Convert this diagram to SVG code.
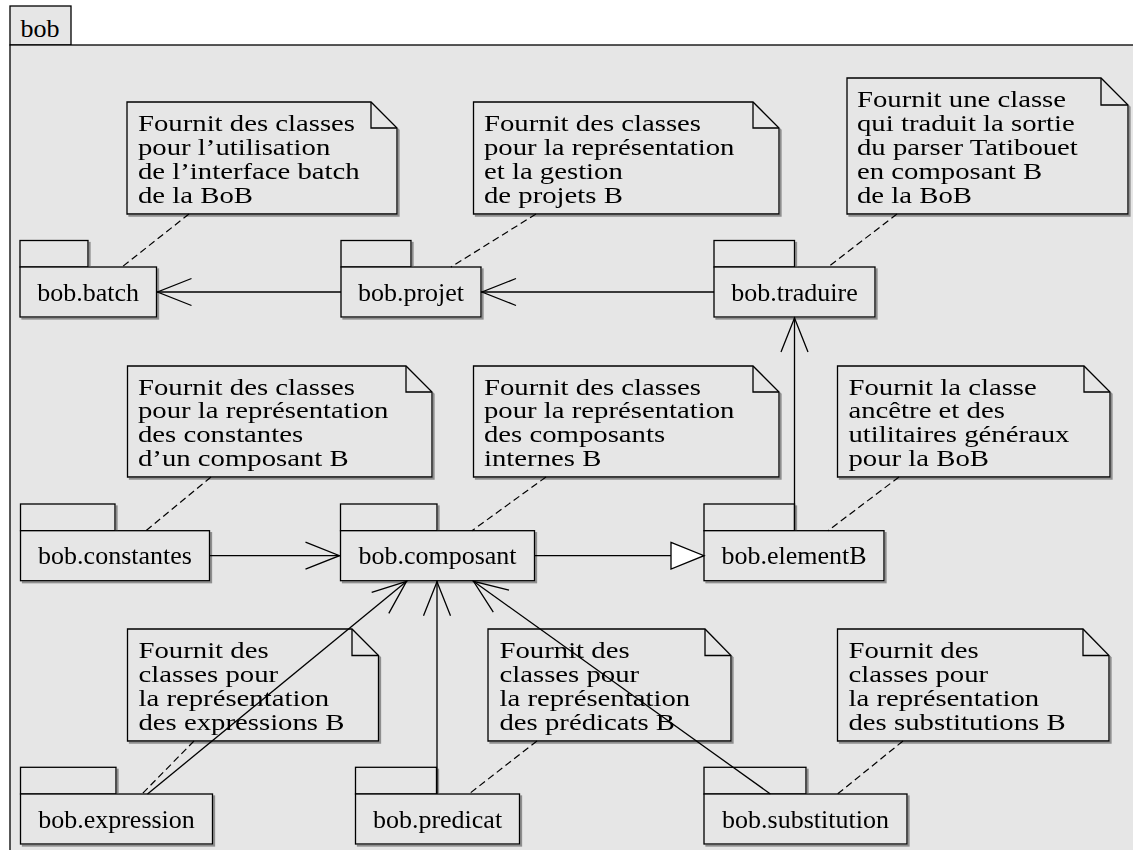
<svg xmlns="http://www.w3.org/2000/svg" width="1133" height="850" viewBox="0 0 1133 850">
<style>
.frame{fill:#e6e6e6;stroke:#000;stroke-width:1.3}
.box{fill:#e6e6e6;stroke:#000;stroke-width:1.3}
.note{fill:#e6e6e6;stroke:#000;stroke-width:1.3}
.fold{fill:none;stroke:#000;stroke-width:1.3}
.lbl{font-family:"Liberation Serif","Times New Roman",serif;font-size:26px;fill:#000;text-anchor:middle}
.ntxt{font-family:"Liberation Serif","Times New Roman",serif;font-size:23px;fill:#000}
.dep{fill:none;stroke:#000;stroke-width:1.3;marker-end:url(#open)}
.gen{fill:none;stroke:#000;stroke-width:1.3;marker-end:url(#tri)}
.anc{fill:none;stroke:#000;stroke-width:1.2;stroke-dasharray:7 4}
.shad{filter:url(#ds)}
</style>
<defs>
<filter id="ds" x="-5%" y="-5%" width="115%" height="125%">
<feDropShadow dx="2" dy="2" stdDeviation="0.7" flood-color="#777" flood-opacity="0.8"/>
</filter>
<marker id="open" markerUnits="userSpaceOnUse" markerWidth="40" markerHeight="32" refX="36" refY="14" orient="auto" overflow="visible">
<path d="M1,0.5 L35,14 L1,27.5" fill="none" stroke="#000" stroke-width="1.3"/>
</marker>
<marker id="tri" markerUnits="userSpaceOnUse" markerWidth="40" markerHeight="32" refX="34" refY="14" orient="auto" overflow="visible">
<path d="M1,0.7 L34,14 L1,27.3 Z" fill="#fff" stroke="#000" stroke-width="1.3"/>
</marker>
</defs>

<g id="frame">
<rect class="frame" x="10" y="6" width="61" height="39"/>
<rect class="frame" x="10" y="45" width="1135" height="815"/>
<text x="20.5" y="36.5" style="font-family:'Liberation Serif','Times New Roman',serif;font-size:26px">bob</text>
</g>

<!-- notes -->
<g id="note-batch" class="shad">
<path class="note" d="M127,102 H371 L397,128 V214 H127 Z"/>
<path class="fold" d="M371,102 V128 H397"/>
<text class="ntxt" transform="translate(138,131) scale(1.25,1)"><tspan x="0" y="0">Fournit des classes</tspan><tspan x="0" dy="24">pour l’utilisation</tspan><tspan x="0" dy="24">de l’interface batch</tspan><tspan x="0" dy="24">de la BoB</tspan></text>
</g>
<g id="note-projet" class="shad">
<path class="note" d="M473.5,102 H753 L779,128 V214 H473.5 Z"/>
<path class="fold" d="M753,102 V128 H779"/>
<text class="ntxt" transform="translate(484,131) scale(1.25,1)"><tspan x="0" y="0">Fournit des classes</tspan><tspan x="0" dy="24">pour la représentation</tspan><tspan x="0" dy="24">et la gestion</tspan><tspan x="0" dy="24">de projets B</tspan></text>
</g>
<g id="note-traduire" class="shad">
<path class="note" d="M847,78 H1101 L1128,105 V214 H847 Z"/>
<path class="fold" d="M1101,78 V105 H1128"/>
<text class="ntxt" transform="translate(857,107) scale(1.25,1)"><tspan x="0" y="0">Fournit une classe</tspan><tspan x="0" dy="24">qui traduit la sortie</tspan><tspan x="0" dy="24">du parser Tatibouet</tspan><tspan x="0" dy="24">en composant B</tspan><tspan x="0" dy="24">de la BoB</tspan></text>
</g>
<g id="note-constantes" class="shad">
<path class="note" d="M127.5,366 H406 L432,392 V477 H127.5 Z"/>
<path class="fold" d="M406,366 V392 H432"/>
<text class="ntxt" transform="translate(138,394.5) scale(1.25,1)"><tspan x="0" y="0">Fournit des classes</tspan><tspan x="0" dy="24">pour la représentation</tspan><tspan x="0" dy="24">des constantes</tspan><tspan x="0" dy="24">d’un composant B</tspan></text>
</g>
<g id="note-composant" class="shad">
<path class="note" d="M473.5,366 H753 L779,392 V477 H473.5 Z"/>
<path class="fold" d="M753,366 V392 H779"/>
<text class="ntxt" transform="translate(484,394.5) scale(1.25,1)"><tspan x="0" y="0">Fournit des classes</tspan><tspan x="0" dy="24">pour la représentation</tspan><tspan x="0" dy="24">des composants</tspan><tspan x="0" dy="24">internes B</tspan></text>
</g>
<g id="note-elementB" class="shad">
<path class="note" d="M837.5,366 H1084 L1110,392 V477 H837.5 Z"/>
<path class="fold" d="M1084,366 V392 H1110"/>
<text class="ntxt" transform="translate(848.5,394.5) scale(1.25,1)"><tspan x="0" y="0">Fournit la classe</tspan><tspan x="0" dy="24">ancêtre et des</tspan><tspan x="0" dy="24">utilitaires généraux</tspan><tspan x="0" dy="24">pour la BoB</tspan></text>
</g>
<g id="note-expression" class="shad">
<path class="note" d="M127.5,629 H352 L378.5,655.5 V741 H127.5 Z"/>
<path class="fold" d="M352,629 V655.5 H378.5"/>
<text class="ntxt" transform="translate(138.5,658) scale(1.25,1)"><tspan x="0" y="0">Fournit des</tspan><tspan x="0" dy="24">classes pour</tspan><tspan x="0" dy="24">la représentation</tspan><tspan x="0" dy="24">des expressions B</tspan></text>
</g>
<g id="note-predicat" class="shad">
<path class="note" d="M488,629 H705 L731,655.5 V741 H488 Z"/>
<path class="fold" d="M705,629 V655.5 H731"/>
<text class="ntxt" transform="translate(499.5,658) scale(1.25,1)"><tspan x="0" y="0">Fournit des</tspan><tspan x="0" dy="24">classes pour</tspan><tspan x="0" dy="24">la représentation</tspan><tspan x="0" dy="24">des prédicats B</tspan></text>
</g>
<g id="note-substitution" class="shad">
<path class="note" d="M837.5,629 H1083 L1109,655.5 V741 H837.5 Z"/>
<path class="fold" d="M1083,629 V655.5 H1109"/>
<text class="ntxt" transform="translate(848.5,658) scale(1.25,1)"><tspan x="0" y="0">Fournit des</tspan><tspan x="0" dy="24">classes pour</tspan><tspan x="0" dy="24">la représentation</tspan><tspan x="0" dy="24">des substitutions B</tspan></text>
</g>

<!-- packages -->
<g id="pkg-batch" class="shad">
<rect class="box" x="20" y="240.5" width="68" height="26.5"/>
<rect class="box" x="20" y="267" width="136.5" height="50"/>
<text class="lbl" x="88.2" y="300.5">bob.batch</text>
</g>
<g id="pkg-projet" class="shad">
<rect class="box" x="341" y="240.5" width="70" height="26.5"/>
<rect class="box" x="341" y="267" width="140" height="50"/>
<text class="lbl" x="411" y="300.5">bob.projet</text>
</g>
<g id="pkg-traduire" class="shad">
<rect class="box" x="714" y="240.5" width="80.5" height="26.5"/>
<rect class="box" x="714" y="267" width="161" height="50"/>
<text class="lbl" x="794.5" y="300.5">bob.traduire</text>
</g>
<g id="pkg-constantes" class="shad">
<rect class="box" x="20.5" y="504" width="94.5" height="26.7"/>
<rect class="box" x="20.5" y="530.7" width="189" height="50"/>
<text class="lbl" x="115" y="564">bob.constantes</text>
</g>
<g id="pkg-composant" class="shad">
<rect class="box" x="340.5" y="504" width="96.5" height="26.7"/>
<rect class="box" x="340.5" y="530.7" width="194" height="50"/>
<text class="lbl" x="437.5" y="564">bob.composant</text>
</g>
<g id="pkg-elementB" class="shad">
<rect class="box" x="704" y="504" width="90.5" height="26.7"/>
<rect class="box" x="704" y="530.7" width="180" height="50"/>
<text class="lbl" x="794" y="564">bob.elementB</text>
</g>
<g id="pkg-expression" class="shad">
<rect class="box" x="20.5" y="767.3" width="95.5" height="26.7"/>
<rect class="box" x="20.5" y="794" width="192" height="50"/>
<text class="lbl" x="116.5" y="827.5">bob.expression</text>
</g>
<g id="pkg-predicat" class="shad">
<rect class="box" x="355.5" y="767.3" width="81" height="26.7"/>
<rect class="box" x="355.5" y="794" width="164" height="50"/>
<text class="lbl" x="437.5" y="827.5">bob.predicat</text>
</g>
<g id="pkg-substitution" class="shad">
<rect class="box" x="704" y="767.3" width="102" height="26.7"/>
<rect class="box" x="704" y="794" width="203" height="50"/>
<text class="lbl" x="805.5" y="827.5">bob.substitution</text>
</g>

<g id="connectors">
<!-- note anchors -->
<line class="anc" x1="189" y1="214" x2="122" y2="267"/>
<line class="anc" x1="536" y1="214" x2="451" y2="267"/>
<line class="anc" x1="897" y1="214" x2="828" y2="267"/>
<line class="anc" x1="211" y1="477" x2="146" y2="530.7"/>
<line class="anc" x1="546" y1="477" x2="472" y2="530.7"/>
<line class="anc" x1="899" y1="477" x2="828" y2="530.7"/>
<line class="anc" x1="194" y1="741" x2="142" y2="794"/>
<line class="anc" x1="537" y1="741" x2="469" y2="794"/>
<line class="anc" x1="903" y1="741" x2="837.5" y2="794"/>
<!-- dependencies -->
<line class="dep" x1="341" y1="292" x2="156.5" y2="292"/>
<line class="dep" x1="714" y1="292" x2="481" y2="292"/>
<line class="dep" x1="794.5" y1="530.7" x2="794.5" y2="317"/>
<line class="dep" x1="209.5" y1="555.7" x2="340.5" y2="555.7"/>
<line class="gen" x1="534.5" y1="555.7" x2="704" y2="555.7"/>
<line class="dep" x1="147.5" y1="794" x2="407.3" y2="580.7"/>
<line class="dep" x1="437" y1="794" x2="437" y2="580.7"/>
<line class="dep" x1="770.4" y1="794" x2="472.7" y2="580.7"/>
</g>
</svg>
